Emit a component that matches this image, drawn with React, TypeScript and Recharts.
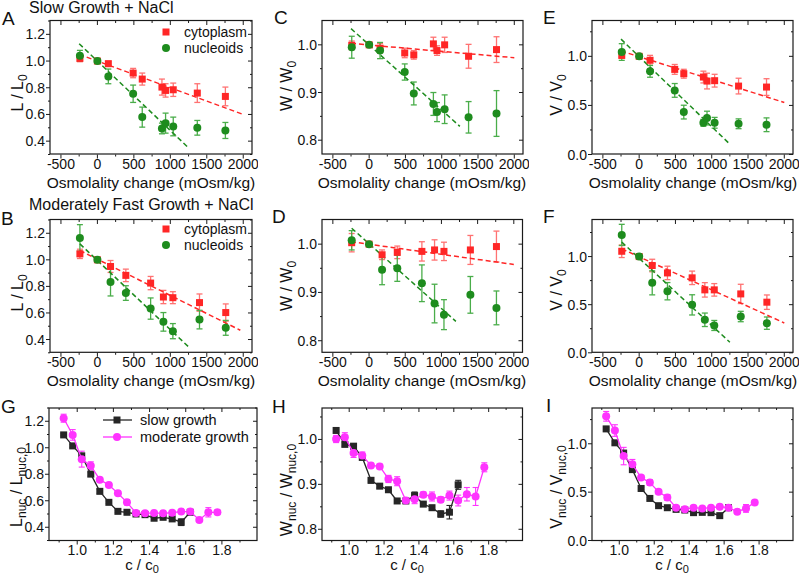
import React from 'react';
import { ComposedChart, Scatter, Line, XAxis, YAxis, ErrorBar } from 'recharts';

const FONT = '"Liberation Sans", Arial, Helvetica, sans-serif';
const AX = '#1a1a1a';
const RED = '#ff2626';
const RED_ERR = '#ff7272';
const GREEN = '#1e8c1e';
const GREEN_ERR = '#4aad4a';
const MAGENTA = '#ff33ff';
const BLACK = '#262626';

// osmolality changes (mOsm/kg)
const slowOsm = [-240, 0, 150, 490, 615, 885, 935, 1040, 1370, 1755];
const modOsm = [-240, 0, 180, 390, 730, 905, 1035, 1400, 1760];

// A: slow growth, L / L0
const cytoL = [1.02, 1.0, 0.98, 0.91, 0.865, 0.805, 0.78, 0.785, 0.76, 0.735];
const cytoLErr = [0.025, 0, 0.02, 0.035, 0.045, 0.06, 0.05, 0.05, 0.07, 0.07];
const nucL = [1.04, 1.0, 0.885, 0.755, 0.58, 0.495, 0.535, 0.51, 0.5, 0.48];
const nucLErr = [0.04, 0, 0.055, 0.065, 0.075, 0.04, 0.075, 0.07, 0.055, 0.06];
const fitCytoL = [{ x: -250, y: 1.05 }, { x: 2000, y: 0.6 }];
const fitNucL = [{ x: -250, y: 1.13 }, { x: 1250, y: 0.35 }];

// C: slow growth, W / W0
const cytoW = [0.999, 1.0, 0.993, 0.983, 0.979, 1.002, 0.988, 1.0, 0.976, 0.99];
const cytoWErr = [0.009, 0, 0.01, 0.01, 0.009, 0.014, 0.01, 0.016, 0.025, 0.027];
const nucW = [0.995, 1.0, 0.988, 0.943, 0.898, 0.876, 0.859, 0.865, 0.848, 0.856];
const nucWErr = [0.023, 0, 0.017, 0.017, 0.024, 0.024, 0.02, 0.03, 0.033, 0.048];
const fitCytoW = [{ x: -250, y: 1.003 }, { x: 2000, y: 0.973 }];
const fitNucW = [{ x: -250, y: 1.034 }, { x: 1250, y: 0.829 }];

// E: slow growth, V / V0
const cytoV = [1.01, 1.0, 0.96, 0.867, 0.823, 0.789, 0.748, 0.752, 0.697, 0.687];
const cytoVErr = [0.03, 0, 0.05, 0.05, 0.045, 0.06, 0.08, 0.065, 0.08, 0.085];
const nucV = [1.044, 1.0, 0.847, 0.653, 0.432, 0.323, 0.371, 0.323, 0.313, 0.303];
const nucVErr = [0.085, 0, 0.06, 0.07, 0.07, 0.035, 0.07, 0.055, 0.05, 0.07];
const fitCytoV = [{ x: -250, y: 1.055 }, { x: 2000, y: 0.53 }];
const fitNucV = [{ x: -250, y: 1.175 }, { x: 1250, y: 0.105 }];

// B: moderately fast growth, L / L0
const cytoL2 = [1.045, 1.0, 0.95, 0.883, 0.825, 0.72, 0.715, 0.678, 0.603];
const cytoL2Err = [0.035, 0, 0.045, 0.047, 0.05, 0.05, 0.045, 0.065, 0.065];
const nucL2 = [1.165, 1.0, 0.833, 0.75, 0.633, 0.533, 0.463, 0.55, 0.488];
const nucL2Err = [0.1, 0, 0.105, 0.055, 0.08, 0.07, 0.057, 0.07, 0.056];
const fitCytoL2 = [{ x: -240, y: 1.07 }, { x: 1960, y: 0.47 }];
const fitNucL2 = [{ x: -240, y: 1.12 }, { x: 1250, y: 0.345 }];

// D: moderately fast growth, W / W0
const cytoW2 = [1.003, 1.0, 0.978, 0.983, 0.985, 0.988, 0.985, 0.988, 0.995];
const cytoW2Err = [0.019, 0, 0.01, 0.013, 0.02, 0.021, 0.019, 0.03, 0.032];
const nucW2 = [1.008, 1.0, 0.947, 0.95, 0.919, 0.877, 0.854, 0.895, 0.868];
const nucW2Err = [0.02, 0, 0.031, 0.027, 0.038, 0.04, 0.031, 0.038, 0.035];
const fitCytoW2 = [{ x: -250, y: 1.005 }, { x: 2000, y: 0.958 }];
const fitNucW2 = [{ x: -240, y: 1.033 }, { x: 1200, y: 0.84 }];

// F: moderately fast growth, V / V0
const cytoV2 = [1.055, 1.0, 0.907, 0.83, 0.779, 0.654, 0.654, 0.612, 0.526];
const cytoV2Err = [0.065, 0, 0.065, 0.07, 0.07, 0.075, 0.065, 0.1, 0.075];
const nucV2 = [1.225, 1.0, 0.727, 0.64, 0.498, 0.343, 0.284, 0.377, 0.308];
const nucV2Err = [0.11, 0, 0.125, 0.09, 0.105, 0.07, 0.052, 0.054, 0.064];
const fitCytoV2 = [{ x: -240, y: 1.08 }, { x: 2000, y: 0.31 }];
const fitNucV2 = [{ x: -240, y: 1.15 }, { x: 1250, y: 0.11 }];

// G-I: c / c0
const cSlow = [0.925, 0.975, 1.025, 1.075, 1.125, 1.175, 1.225, 1.275, 1.325, 1.375, 1.425, 1.475, 1.525, 1.575, 1.625];
const cMod = [0.925, 0.975, 1.025, 1.075, 1.125, 1.175, 1.225, 1.275, 1.325, 1.375, 1.425, 1.475, 1.525, 1.575, 1.625, 1.675, 1.725, 1.775];

const slowLnuc = [1.097, 1.014, 0.939, 0.801, 0.671, 0.588, 0.52, 0.513, 0.5, 0.495, 0.468, 0.475, 0.463, 0.438, 0.513];
const slowLnucErr = [0.008, 0.01, 0.015, 0.015, 0.015, 0.01, 0.008, 0.008, 0.01, 0.01, 0.012, 0.012, 0.015, 0.025, 0.015];
const modLnuc = [1.223, 1.097, 0.914, 0.864, 0.759, 0.719, 0.656, 0.588, 0.508, 0.505, 0.508, 0.505, 0.51, 0.518, 0.518, 0.455, 0.513, 0.513];
const modLnucErr = [0.03, 0.04, 0.06, 0.03, 0.015, 0.015, 0.015, 0.02, 0.015, 0.01, 0.01, 0.01, 0.015, 0.015, 0.01, 0.01, 0.035, 0.015];

const slowWnuc = [1.02, 0.989, 0.985, 0.96, 0.909, 0.896, 0.888, 0.863, 0.863, 0.875, 0.856, 0.848, 0.834, 0.838, 0.899];
const slowWnucErr = [0.003, 0.004, 0.004, 0.005, 0.006, 0.004, 0.003, 0.004, 0.004, 0.008, 0.004, 0.005, 0.007, 0.015, 0.01];
const modWnuc = [1.001, 1.005, 0.97, 0.964, 0.942, 0.94, 0.912, 0.907, 0.864, 0.867, 0.877, 0.873, 0.866, 0.875, 0.864, 0.878, 0.873, 0.938];
const modWnucErr = [0.008, 0.01, 0.01, 0.008, 0.005, 0.005, 0.008, 0.01, 0.005, 0.01, 0.006, 0.01, 0.006, 0.01, 0.012, 0.015, 0.02, 0.01];

const slowVnuc = [1.154, 1.01, 0.904, 0.733, 0.538, 0.435, 0.36, 0.339, 0.322, 0.315, 0.288, 0.291, 0.288, 0.257, 0.339];
const slowVnucErr = [0.01, 0.015, 0.015, 0.015, 0.015, 0.01, 0.01, 0.01, 0.01, 0.01, 0.01, 0.01, 0.015, 0.015, 0.01];
const modVnuc = [1.284, 1.137, 0.873, 0.788, 0.651, 0.599, 0.503, 0.445, 0.339, 0.322, 0.339, 0.332, 0.339, 0.349, 0.339, 0.298, 0.332, 0.394];
const modVnucErr = [0.05, 0.06, 0.09, 0.05, 0.02, 0.03, 0.02, 0.03, 0.02, 0.015, 0.015, 0.015, 0.015, 0.015, 0.015, 0.015, 0.04, 0.02];

// axis ticks
const osmMajor = [-500, 0, 500, 1000, 1500, 2000];
const osmMinor = [-250, 250, 750, 1250, 1750];
const cMajor = [1.0, 1.2, 1.4, 1.6, 1.8];
const cMinor = [0.9, 1.1, 1.3, 1.5, 1.7, 1.9];
const lMajor = [0.4, 0.6, 0.8, 1.0, 1.2];
const lMinor = [0.3, 0.5, 0.7, 0.9, 1.1, 1.3];
const wMajor = [0.8, 0.9, 1.0];
const wMinor = [0.85, 0.95, 1.05];
const vMajor = [0.0, 0.5, 1.0];
const vMinor = [0.25, 0.75, 1.25];

const zip = (xs: number[], ys: number[], es: number[]) => xs.map((x, i) => ({ x, y: ys[i], e: es[i] }));
const has = (arr: number[], v: number) => arr.some((m) => Math.abs(m - v) < 1e-6);

const square = (color: string) => (p: any) => (
  <rect x={p.cx - 3.5} y={p.cy - 3.5} width={7} height={7} fill={color} />
);
const circle = (color: string) => (p: any) => <circle cx={p.cx} cy={p.cy} r={4} fill={color} />;

const L = 48, R = 6, T = 6, B = 22;

type Box = [number, number, number, number];

// plot frames (left, top, right, bottom) in page pixels
const boxA: Box = [50, 20.5, 252, 154];
const boxC: Box = [322, 20.5, 523, 154];
const boxE: Box = [592, 20.5, 793, 154];
const boxB: Box = [50, 219.5, 252, 352.3];
const boxD: Box = [322, 219.5, 522.5, 352.3];
const boxF: Box = [592, 219.5, 793, 352.3];
const boxG: Box = [49, 408, 257, 540.5];
const boxH: Box = [322, 408, 522.5, 540.5];
const boxI: Box = [592, 408, 793, 540.5];
const allBoxes = [boxA, boxC, boxE, boxB, boxD, boxF, boxG, boxH, boxI];

type PanelProps = {
  box: Box;
  xDomain: [number, number];
  yDomain: [number, number];
  xMajor: number[];
  xMinor: number[];
  yMajor: number[];
  yMinor: number[];
  xDigits: number;
  children: React.ReactNode;
};

const Panel = ({ box, xDomain, yDomain, xMajor, xMinor, yMajor, yMinor, xDigits, children }: PanelProps) => {
  const [l, t, r, b] = box;
  const pw = r - l;
  const ph = b - t;

  const xTick = (p: any) => {
    const v = p.payload.value;
    const big = has(xMajor, v);
    const len = big ? 4 : 2;
    return (
      <g>
        <line x1={p.x} x2={p.x} y1={p.y} y2={p.y + len} stroke={AX} />
        <line x1={p.x} x2={p.x} y1={p.y - ph} y2={p.y - ph + len} stroke={AX} />
        {big && (
          <text x={p.x} y={p.y + 14.5} textAnchor="middle" fontSize={14} fontFamily={FONT} fill="#111">
            {v.toFixed(xDigits)}
          </text>
        )}
      </g>
    );
  };

  const yTick = (p: any) => {
    const v = p.payload.value;
    const big = has(yMajor, v);
    const len = big ? 4 : 2;
    return (
      <g>
        <line x1={p.x} x2={p.x - len} y1={p.y} y2={p.y} stroke={AX} />
        <line x1={p.x + pw} x2={p.x + pw - len} y1={p.y} y2={p.y} stroke={AX} />
        {big && (
          <text x={p.x - 5} y={p.y + 5} textAnchor="end" fontSize={14} fontFamily={FONT} fill="#111">
            {v.toFixed(1)}
          </text>
        )}
      </g>
    );
  };

  return (
    <div style={{ position: 'absolute', left: l - L, top: t - T }}>
      <ComposedChart width={pw + L + R} height={ph + T + B} margin={{ top: T, right: R, left: 0, bottom: 0 }}>
        <XAxis
          type="number"
          dataKey="x"
          domain={xDomain}
          allowDataOverflow
          ticks={[...xMajor, ...xMinor]}
          interval={0}
          tickSize={0}
          tickMargin={0}
          tickLine={false}
          axisLine={false}
          height={B}
          tick={xTick}
        />
        <YAxis
          type="number"
          dataKey="y"
          domain={yDomain}
          allowDataOverflow
          ticks={[...yMajor, ...yMinor]}
          interval={0}
          tickSize={0}
          tickMargin={0}
          tickLine={false}
          axisLine={false}
          width={L}
          tick={yTick}
        />
        {children}
      </ComposedChart>
    </div>
  );
};

const osmSeries = (cyto: any[], nuc: any[], fitC: any[], fitN: any[]) => [
  <Scatter key="c" data={cyto} fill={RED} shape={square(RED)} isAnimationActive={false}>
    <ErrorBar dataKey="e" direction="y" width={3} stroke={RED_ERR} strokeWidth={1.3} />
  </Scatter>,
  <Scatter key="n" data={nuc} fill={GREEN} shape={circle(GREEN)} isAnimationActive={false}>
    <ErrorBar dataKey="e" direction="y" width={3} stroke={GREEN_ERR} strokeWidth={1.3} />
  </Scatter>,
  <Line key="fc" data={fitC} dataKey="y" stroke={RED} strokeWidth={1.5} strokeDasharray="5 3" dot={false} activeDot={false} isAnimationActive={false} />,
  <Line key="fn" data={fitN} dataKey="y" stroke={GREEN} strokeWidth={1.5} strokeDasharray="5 3" dot={false} activeDot={false} isAnimationActive={false} />,
];

const ratioSeries = (slow: any[], mod: any[]) => [
  <Scatter key="s" data={slow} fill={BLACK} shape={square(BLACK)} line={{ stroke: BLACK, strokeWidth: 1.3 }} lineType="joint" isAnimationActive={false}>
    <ErrorBar dataKey="e" direction="y" width={3} stroke={BLACK} strokeWidth={1.1} />
  </Scatter>,
  <Scatter key="m" data={mod} fill={MAGENTA} shape={circle(MAGENTA)} line={{ stroke: MAGENTA, strokeWidth: 1.3 }} lineType="joint" isAnimationActive={false}>
    <ErrorBar dataKey="e" direction="y" width={3} stroke={MAGENTA} strokeWidth={1.1} />
  </Scatter>,
];

const YLabel = ({ x, y, parts }: { x: number; y: number; parts: [string, string][] }) => (
  <text transform={`translate(${x},${y}) rotate(-90)`} textAnchor="middle" fontSize={16} fontFamily={FONT} fill="#111">
    {parts.map(([t, s], i) => (
      <React.Fragment key={i}>
        <tspan dy={i > 0 && parts[i - 1][1] ? -4 : 0}>{t}</tspan>
        {s && <tspan dy={4} fontSize={12}>{s}</tspan>}
      </React.Fragment>
    ))}
  </text>
);

const Overlay = () => {
  const txt = { fontFamily: FONT, fill: '#111' };
  const letters: [string, number, number][] = [
    ['A', 2, 25], ['C', 274, 24], ['E', 543, 24],
    ['B', 1, 225], ['D', 272, 223], ['F', 543, 223],
    ['G', 1, 413], ['H', 272, 413], ['I', 546, 412],
  ];
  return (
    <svg width={800} height={576} style={{ position: 'absolute', left: 0, top: 0, pointerEvents: 'none' }}>
      {allBoxes.map(([l, t, r, b], i) => (
        <rect key={i} x={l} y={t} width={r - l} height={b - t} fill="none" stroke={AX} strokeWidth={1.2} />
      ))}
      {letters.map(([s, x, y]) => (
        <text key={s} x={x} y={y} fontSize={19} {...txt}>{s}</text>
      ))}
      <text x={29} y={13} fontSize={16} {...txt}>Slow Growth + NaCl</text>
      <text x={29} y={210} fontSize={16} {...txt}>Moderately Fast Growth + NaCl</text>

      {[151, 422, 693].map((cx) => (
        <React.Fragment key={cx}>
          <text x={cx} y={188} textAnchor="middle" fontSize={15.5} {...txt}>Osmolality change (mOsm/kg)</text>
          <text x={cx} y={386} textAnchor="middle" fontSize={15.5} {...txt}>Osmolality change (mOsm/kg)</text>
        </React.Fragment>
      ))}
      {[142, 407, 672].map((cx) => (
        <text key={cx} x={cx} y={570} textAnchor="middle" fontSize={15} {...txt}>
          c / c<tspan dy={2.5} fontSize={11}>0</tspan>
        </text>
      ))}

      <YLabel x={23} y={93} parts={[['L', ''], [' / L', '0']]} />
      <YLabel x={292} y={86} parts={[['W', ''], [' / W', '0']]} />
      <YLabel x={562} y={95} parts={[['V', ''], [' / V', '0']]} />
      <YLabel x={23} y={293} parts={[['L', ''], [' / L', '0']]} />
      <YLabel x={292} y={286} parts={[['W', ''], [' / W', '0']]} />
      <YLabel x={562} y={290} parts={[['V', ''], [' / V', '0']]} />
      <YLabel x={22} y={487} parts={[['L', 'nuc'], [' / L', 'nuc,0']]} />
      <YLabel x={292} y={490} parts={[['W', 'nuc'], [' / W', 'nuc,0']]} />
      <YLabel x={562} y={487} parts={[['V', 'nuc'], [' / V', 'nuc,0']]} />

      {[0, 197].map((dy) => (
        <g key={dy}>
          <rect x={162.5} y={28.5 + dy} width={7} height={7} fill={RED} />
          <text x={184} y={37 + dy} fontSize={14} {...txt}>cytoplasm</text>
          <circle cx={166} cy={48 + dy} r={4} fill={GREEN} />
          <text x={184} y={53 + dy} fontSize={14} {...txt}>nucleoids</text>
        </g>
      ))}

      <line x1={103} x2={132} y1={420} y2={420} stroke={BLACK} strokeWidth={1.3} />
      <rect x={113.5} y={416.5} width={7} height={7} fill={BLACK} />
      <text x={140} y={425} fontSize={14.5} {...txt}>slow growth</text>
      <line x1={103} x2={132} y1={437} y2={437} stroke={MAGENTA} strokeWidth={1.3} />
      <circle cx={117} cy={437} r={4} fill={MAGENTA} />
      <text x={140} y={442} fontSize={14.5} {...txt}>moderate growth</text>
    </svg>
  );
};

const osmX: [number, number] = [-650, 2120];
const cX: [number, number] = [0.844, 1.994];

export default function App() {
  return (
    <div style={{ position: 'absolute', left: 0, top: 0, width: 800, height: 576, background: '#fff', fontFamily: FONT }}>
      <Panel box={boxA} xDomain={osmX} yDomain={[0.3, 1.3]} xMajor={osmMajor} xMinor={osmMinor} yMajor={lMajor} yMinor={lMinor} xDigits={0}>
        {osmSeries(zip(slowOsm, cytoL, cytoLErr), zip(slowOsm, nucL, nucLErr), fitCytoL, fitNucL)}
      </Panel>
      <Panel box={boxC} xDomain={osmX} yDomain={[0.77, 1.05]} xMajor={osmMajor} xMinor={osmMinor} yMajor={wMajor} yMinor={[0.85, 0.95]} xDigits={0}>
        {osmSeries(zip(slowOsm, cytoW, cytoWErr), zip(slowOsm, nucW, nucWErr), fitCytoW, fitNucW)}
      </Panel>
      <Panel box={boxE} xDomain={osmX} yDomain={[0, 1.36]} xMajor={osmMajor} xMinor={osmMinor} yMajor={vMajor} yMinor={vMinor} xDigits={0}>
        {osmSeries(zip(slowOsm, cytoV, cytoVErr), zip(slowOsm, nucV, nucVErr), fitCytoV, fitNucV)}
      </Panel>

      <Panel box={boxB} xDomain={osmX} yDomain={[0.3, 1.3]} xMajor={osmMajor} xMinor={osmMinor} yMajor={lMajor} yMinor={lMinor} xDigits={0}>
        {osmSeries(zip(modOsm, cytoL2, cytoL2Err), zip(modOsm, nucL2, nucL2Err), fitCytoL2, fitNucL2)}
      </Panel>
      <Panel box={boxD} xDomain={osmX} yDomain={[0.775, 1.05]} xMajor={osmMajor} xMinor={osmMinor} yMajor={wMajor} yMinor={[0.85, 0.95]} xDigits={0}>
        {osmSeries(zip(modOsm, cytoW2, cytoW2Err), zip(modOsm, nucW2, nucW2Err), fitCytoW2, fitNucW2)}
      </Panel>
      <Panel box={boxF} xDomain={osmX} yDomain={[0, 1.38]} xMajor={osmMajor} xMinor={osmMinor} yMajor={vMajor} yMinor={vMinor} xDigits={0}>
        {osmSeries(zip(modOsm, cytoV2, cytoV2Err), zip(modOsm, nucV2, nucV2Err), fitCytoV2, fitNucV2)}
      </Panel>

      <Panel box={boxG} xDomain={cX} yDomain={[0.3, 1.3]} xMajor={cMajor} xMinor={cMinor} yMajor={lMajor} yMinor={lMinor} xDigits={1}>
        {ratioSeries(zip(cSlow, slowLnuc, slowLnucErr), zip(cMod, modLnuc, modLnucErr))}
      </Panel>
      <Panel box={boxH} xDomain={cX} yDomain={[0.775, 1.07]} xMajor={cMajor} xMinor={cMinor} yMajor={wMajor} yMinor={wMinor} xDigits={1}>
        {ratioSeries(zip(cSlow, slowWnuc, slowWnucErr), zip(cMod, modWnuc, modWnucErr))}
      </Panel>
      <Panel box={boxI} xDomain={cX} yDomain={[0, 1.37]} xMajor={cMajor} xMinor={cMinor} yMajor={vMajor} yMinor={vMinor} xDigits={1}>
        {ratioSeries(zip(cSlow, slowVnuc, slowVnucErr), zip(cMod, modVnuc, modVnucErr))}
      </Panel>

      <Overlay />
    </div>
  );
}
